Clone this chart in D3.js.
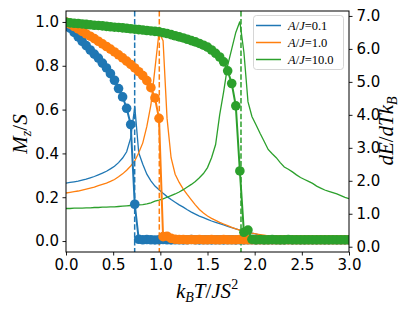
<!DOCTYPE html>
<html><head><meta charset="utf-8">
<script src="https://cdn.jsdelivr.net/npm/d3@7"></script>
<style>body{margin:0;background:#fff}svg{display:block}</style>
</head><body>
<svg id="c" width="415" height="311"></svg>
<script>
const T = [0,0.043,0.086,0.129,0.171,0.214,0.257,0.3,0.343,0.386,0.429,0.471,0.514,0.557,0.6,0.643,0.686,0.729,0.771,0.814,0.857,0.9,0.943,0.986,1.029,1.071,1.114,1.157,1.2,1.243,1.286,1.329,1.371,1.414,1.457,1.5,1.543,1.586,1.629,1.671,1.714,1.757,1.8,1.843,1.886,1.929,1.971,2.014,2.057,2.1,2.143,2.186,2.229,2.271,2.314,2.357,2.4,2.443,2.486,2.529,2.571,2.614,2.657,2.7,2.743,2.786,2.829,2.871,2.914,2.957,3.0];
const labels = ["0.1","1.0","10.0"];
const colors = ["#1f77b4","#ff7f0e","#2ca02c"];
const Tc = [0.728, 0.989, 1.855];
// magnetization M_z/S
const M1 = [0.99,0.972,0.952,0.932,0.912,0.892,0.872,0.853,0.835,0.812,0.79,0.764,0.734,0.696,0.658,0.606,0.532,0.168,0.008,0.006,0.007,0.006,0.005,0.006,0.007,0.006,0.005,0.006,0.006,0.005,0.006,0.007,0.006,0.005,0.006,0.006,0.005,0.006,0.006,0.005,0.006,0.006,0.005,0.006,0.005,0.006,0.006,0.005,0.006,0.005,0.006,0.005,0.006,0.005,0.005,0.006,0.005,0.006,0.005,0.005,0.006,0.005,0.005,0.006,0.005,0.005,0.006,0.005,0.005,0.005,0.005];
const M2 = [1.0,0.99,0.979,0.968,0.957,0.946,0.935,0.924,0.912,0.9,0.888,0.876,0.863,0.85,0.836,0.821,0.806,0.79,0.773,0.755,0.732,0.7,0.653,0.56,0.02,0.022,0.012,0.008,0.007,0.007,0.006,0.007,0.006,0.007,0.006,0.006,0.007,0.006,0.006,0.007,0.006,0.006,0.006,0.007,0.006,0.006,0.006,0.006,0.006,0.006,0.006,0.006,0.006,0.006,0.006,0.006,0.006,0.006,0.006,0.006,0.006,0.006,0.006,0.006,0.006,0.006,0.006,0.006,0.006,0.006,0.006];
const M3 = [0.998,0.996,0.994,0.993,0.991,0.989,0.987,0.985,0.984,0.982,0.98,0.978,0.976,0.975,0.973,0.971,0.969,0.967,0.965,0.963,0.961,0.959,0.957,0.955,0.951,0.947,0.942,0.937,0.932,0.927,0.921,0.915,0.909,0.902,0.894,0.885,0.872,0.857,0.84,0.818,0.777,0.719,0.617,0.32,0.04,0.05,0.008,0.006,0.007,0.006,0.006,0.007,0.006,0.006,0.006,0.007,0.006,0.006,0.006,0.006,0.006,0.006,0.006,0.006,0.006,0.006,0.006,0.006,0.006,0.006,0.006];
// specific heat dE/dTk_B
const C1 = [1.93,1.95,1.97,1.99,2.02,2.05,2.09,2.13,2.18,2.23,2.29,2.36,2.44,2.55,2.69,2.88,3.3,4.25,2.85,2.5,2.2,2.0,1.84,1.73,1.62,1.52,1.43,1.35,1.27,1.2,1.12,1.05,0.99,0.93,0.88,0.83,0.78,0.74,0.7,0.66,0.62,0.58,0.54,0.5,0.47,0.44,0.41,0.38,0.35,0.33,0.31,0.3,0.29,0.28,0.27,0.26,0.25,0.245,0.24,0.23,0.225,0.22,0.21,0.205,0.2,0.195,0.19,0.188,0.185,0.182,0.18];
const C2 = [1.63,1.65,1.67,1.69,1.72,1.75,1.78,1.81,1.85,1.89,1.93,1.98,2.04,2.12,2.21,2.32,2.45,2.6,2.85,3.15,3.65,4.3,5.4,6.5,6.25,3.9,2.7,2.2,1.95,1.75,1.58,1.42,1.27,1.13,1.02,0.93,0.86,0.8,0.74,0.69,0.64,0.59,0.54,0.5,0.47,0.44,0.41,0.39,0.37,0.35,0.33,0.32,0.31,0.3,0.29,0.28,0.27,0.265,0.26,0.25,0.245,0.24,0.235,0.23,0.225,0.22,0.215,0.21,0.205,0.2,0.2];
const C3 = [1.16,1.16,1.17,1.17,1.17,1.18,1.18,1.19,1.19,1.2,1.2,1.21,1.21,1.22,1.23,1.24,1.25,1.26,1.27,1.28,1.3,1.33,1.38,1.41,1.45,1.5,1.55,1.6,1.66,1.73,1.81,1.89,1.98,2.09,2.22,2.4,2.7,3.1,4.0,4.7,5.5,6.0,6.5,6.83,5.9,4.4,3.95,3.7,3.44,3.2,2.95,2.82,2.7,2.55,2.42,2.35,2.27,2.18,2.1,2.04,1.98,1.92,1.84,1.78,1.72,1.68,1.64,1.6,1.55,1.5,1.46];
const xTicks = [0,0.5,1.0,1.5,2.0,2.5,3.0];
const yLTicks = [0,0.2,0.4,0.6,0.8,1.0];
const yRTicks = [0,1,2,3,4,5,6,7];

const Ms = [M1,M2,M3], Cs = [C1,C2,C3];
const L = 66, R = 349, Tp = 11, B = 252;
const svg = d3.select("#c");
const x = d3.scaleLinear().domain([0,3]).range([L,R]);
const yL = d3.scaleLinear().domain([-0.05,1.05]).range([B,Tp]);
const yR = d3.scaleLinear().domain([-0.16,7.15]).range([B,Tp]);

svg.append("clipPath").attr("id","clp").append("rect")
  .attr("x",L).attr("y",Tp).attr("width",R-L).attr("height",B-Tp);
const plot = svg.append("g").attr("clip-path","url(#clp)");

// specific heat lines
Cs.forEach((c,k)=>{
  plot.append("path").datum(c.map((v,i)=>[T[i],v]))
    .attr("d", d3.line().x(d=>x(d[0])).y(d=>yR(d[1])))
    .attr("fill","none").attr("stroke",colors[k]).attr("stroke-width",1.3);
});
// vertical dashed lines
Tc.forEach((t,k)=>{
  plot.append("line").attr("x1",x(t)).attr("x2",x(t)).attr("y1",Tp).attr("y2",B)
    .attr("stroke",colors[k]).attr("stroke-width",1.5).attr("stroke-dasharray","5.5,2.4");
});
// magnetization
Ms.forEach((m,k)=>{
  const pts = m.map((v,i)=>[T[i],v]);
  plot.append("path").datum(pts)
    .attr("d", d3.line().x(d=>x(d[0])).y(d=>yL(d[1])))
    .attr("fill","none").attr("stroke",colors[k]).attr("stroke-width",2);
  plot.append("g").selectAll("circle").data(pts).join("circle")
    .attr("cx",d=>x(d[0])).attr("cy",d=>yL(d[1])).attr("r",4.8).attr("fill",colors[k]);
});

// axes
const fmt = d3.format(".1f");
const ax = svg.append("g").attr("transform",`translate(0,${B})`)
  .call(d3.axisBottom(x).tickValues(xTicks).tickFormat(fmt).tickSize(3.5).tickPadding(3.5));
const al = svg.append("g").attr("transform",`translate(${L},0)`)
  .call(d3.axisLeft(yL).tickValues(yLTicks).tickFormat(fmt).tickSize(3.5).tickPadding(3.5));
const ar = svg.append("g").attr("transform",`translate(${R},0)`)
  .call(d3.axisRight(yR).tickValues(yRTicks).tickFormat(fmt).tickSize(3.5).tickPadding(4));
[ax,al,ar].forEach(g=>{
  g.select(".domain").remove();
  g.selectAll(".tick line").attr("stroke","#000").attr("stroke-width",0.9);
  g.selectAll(".tick text").attr("font-family","DejaVu Sans").attr("font-size",15).attr("fill","#000");
});
svg.append("rect").attr("x",L).attr("y",Tp).attr("width",R-L).attr("height",B-Tp)
  .attr("fill","none").attr("stroke","#000").attr("stroke-width",1);

// legend
const lg = svg.append("g");
lg.append("rect").attr("x",253.5).attr("y",15.5).attr("width",90).attr("height",54).attr("rx",3)
  .attr("fill","#fff").attr("fill-opacity",0.8).attr("stroke","#ccc").attr("stroke-width",0.8);
labels.forEach((lab,k)=>{
  const yy = 25.5 + k*17;
  lg.append("line").attr("x1",256).attr("x2",281).attr("y1",yy).attr("y2",yy)
    .attr("stroke",colors[k]).attr("stroke-width",1.5);
  const t = lg.append("text").attr("x",288).attr("y",yy+4).attr("font-family","Liberation Serif").attr("font-size",12.5);
  t.append("tspan").attr("font-style","italic").text("A");
  t.append("tspan").text("/");
  t.append("tspan").attr("font-style","italic").text("J");
  t.append("tspan").text("=" + lab);
});

// axis labels
const xl = svg.append("text").attr("x",207).attr("y",298).attr("text-anchor","middle")
  .attr("font-family","Liberation Serif").attr("font-size",21);
xl.append("tspan").attr("font-style","italic").text("k");
xl.append("tspan").attr("font-style","italic").attr("font-size",14).attr("dy",4).text("B");
xl.append("tspan").attr("font-style","italic").attr("dy",-4).text("T");
xl.append("tspan").text("/");
xl.append("tspan").attr("font-style","italic").text("JS");
xl.append("tspan").attr("font-size",14).attr("dy",-9).text("2");

const yl = svg.append("text").attr("transform","translate(27,134) rotate(-90)").attr("text-anchor","middle")
  .attr("font-family","Liberation Serif").attr("font-size",21);
yl.append("tspan").attr("font-style","italic").text("M");
yl.append("tspan").attr("font-style","italic").attr("font-size",14).attr("dy",4).text("z");
yl.append("tspan").attr("dy",-4).text("/");
yl.append("tspan").attr("font-style","italic").text("S");

const yr = svg.append("text").attr("transform","translate(393,131) rotate(-90)").attr("text-anchor","middle")
  .attr("font-family","Liberation Serif").attr("font-size",21);
yr.append("tspan").attr("font-style","italic").text("dE");
yr.append("tspan").text("/");
yr.append("tspan").attr("font-style","italic").text("dTk");
yr.append("tspan").attr("font-style","italic").attr("font-size",14).attr("dy",4).text("B");
</script>
</body></html>
